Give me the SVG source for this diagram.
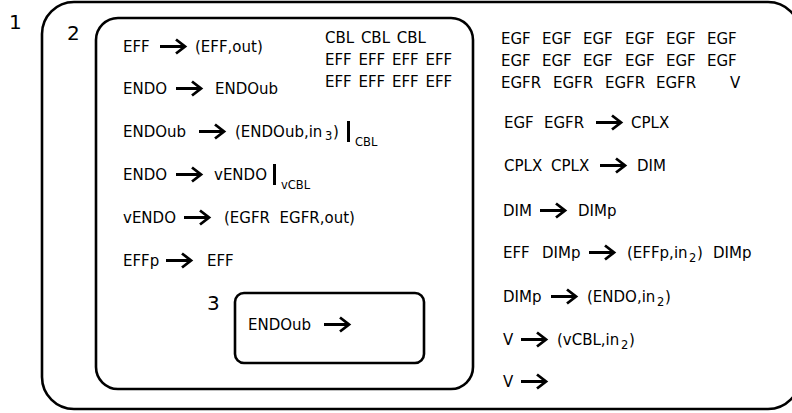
<svg xmlns="http://www.w3.org/2000/svg" xmlns:xlink="http://www.w3.org/1999/xlink" width="792" height="413" viewBox="0 0 792 413">
<style>
.t{font-family:"DejaVu Sans",sans-serif;font-size:15px;fill:#000}
.w{word-spacing:2px}
.s{font-family:"DejaVu Sans",sans-serif;font-size:11.5px;fill:#000}
.lbl{font-family:"DejaVu Sans",sans-serif;font-size:20px;fill:#000}
.m{fill:none;stroke:#000;stroke-width:2.6}
.bar{stroke:#000;stroke-width:3}
</style>
<defs>
<path id="arr" d="M0,0 H25 M16,-7 L25,0 L16,7" fill="none" stroke="#000" stroke-width="2.8"/>
</defs>
<rect width="792" height="413" fill="#fff"/>
<g id="membrane1">
<rect class="m" x="42" y="2" width="758" height="407" rx="32"/>
<text class="lbl" x="9" y="29">1</text>
</g>
<g id="membrane2">
<rect class="m" x="96" y="18" width="377" height="371" rx="22"/>
<text class="lbl" x="67" y="40">2</text>
</g>
<g id="membrane3">
<rect class="m" x="235" y="293" width="189" height="70" rx="9"/>
<text class="lbl" x="207" y="310">3</text>
</g>
<g id="rules2">
<text class="t" x="123" y="52">EFF</text><use xlink:href="#arr" x="160" y="46.5"/><text class="t" x="195" y="52">(EFF,out)</text>
<text class="t" x="123" y="94">ENDO</text><use xlink:href="#arr" x="176" y="88.5"/><text class="t" x="215" y="94">ENDOub</text>
<text class="t" x="123" y="137">ENDOub</text><use xlink:href="#arr" x="199" y="131.5"/><text class="t" x="235" y="137">(ENDOub,in</text><text class="s" x="325" y="140">3</text><text class="t" x="333" y="137">)</text>
<line class="bar" x1="348.5" y1="121" x2="348.5" y2="142"/><text class="s" x="355" y="146">CBL</text>
<text class="t" x="123" y="180">ENDO</text><use xlink:href="#arr" x="176" y="174.5"/><text class="t" x="214" y="180">vENDO</text>
<line class="bar" x1="274.5" y1="164" x2="274.5" y2="185"/><text class="s" x="281" y="189">vCBL</text>
<text class="t" x="123" y="223">vENDO</text><use xlink:href="#arr" x="184" y="217.5"/><text class="t" x="224" y="223" xml:space="preserve">(EGFR  EGFR,out)</text>
<text class="t" x="123" y="266">EFFp</text><use xlink:href="#arr" x="166" y="260.5"/><text class="t" x="207" y="266">EFF</text>
<text class="t w" x="325" y="43">CBL CBL CBL</text>
<text class="t w" x="325" y="65">EFF EFF EFF EFF</text>
<text class="t w" x="325" y="87">EFF EFF EFF EFF</text>
</g>
<g id="rules3">
<text class="t" x="248" y="330">ENDOub</text><use xlink:href="#arr" x="324" y="324.5"/>
</g>
<g id="rules1">
<text class="t" y="44"><tspan x="501">EGF</tspan><tspan x="542">EGF</tspan><tspan x="583">EGF</tspan><tspan x="625">EGF</tspan><tspan x="666">EGF</tspan><tspan x="707">EGF</tspan></text>
<text class="t" y="66"><tspan x="501">EGF</tspan><tspan x="542">EGF</tspan><tspan x="583">EGF</tspan><tspan x="625">EGF</tspan><tspan x="666">EGF</tspan><tspan x="707">EGF</tspan></text>
<text class="t" y="88"><tspan x="501">EGFR</tspan><tspan x="553">EGFR</tspan><tspan x="605">EGFR</tspan><tspan x="656">EGFR</tspan><tspan x="730">V</tspan></text>
<text class="t" y="128"><tspan x="504">EGF</tspan><tspan x="544">EGFR</tspan></text><use xlink:href="#arr" x="596" y="122.5"/><text class="t" x="631" y="128">CPLX</text>
<text class="t" y="171"><tspan x="504">CPLX</tspan><tspan x="551">CPLX</tspan></text><use xlink:href="#arr" x="600" y="165.5"/><text class="t" x="637" y="171">DIM</text>
<text class="t" x="503" y="216">DIM</text><use xlink:href="#arr" x="540" y="210.5"/><text class="t" x="578" y="216">DIMp</text>
<text class="t" y="258"><tspan x="503">EFF</tspan><tspan x="542">DIMp</tspan></text><use xlink:href="#arr" x="589" y="252.5"/><text class="t" x="627" y="258">(EFFp,in</text><text class="s" x="689" y="262">2</text><text class="t" x="697" y="258">)</text><text class="t" x="713" y="258">DIMp</text>
<text class="t" x="503" y="302">DIMp</text><use xlink:href="#arr" x="551" y="296.5"/><text class="t" x="587" y="302">(ENDO,in</text><text class="s" x="657" y="306">2</text><text class="t" x="665" y="302">)</text>
<text class="t" x="503" y="345">V</text><use xlink:href="#arr" x="521" y="339.5"/><text class="t" x="557" y="345">(vCBL,in</text><text class="s" x="621" y="349">2</text><text class="t" x="629" y="345">)</text>
<text class="t" x="503" y="387">V</text><use xlink:href="#arr" x="521" y="381.5"/>
</g>
</svg>
